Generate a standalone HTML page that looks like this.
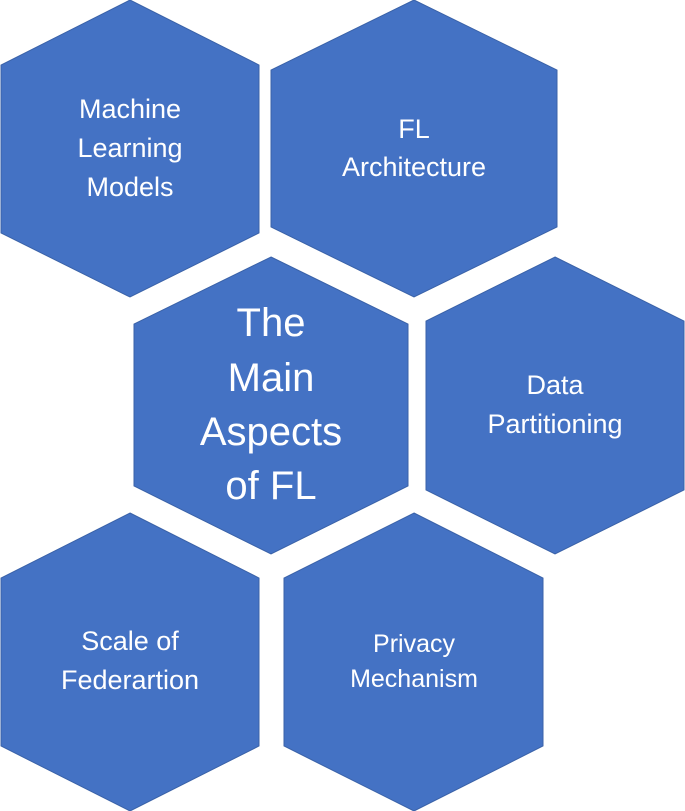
<!DOCTYPE html>
<html><head><meta charset="utf-8"><style>
html,body{margin:0;padding:0;background:#fff}
svg{display:block}
text{font-family:"Liberation Sans",sans-serif;fill:#fff;text-anchor:middle;dominant-baseline:central}
polygon{fill:#4472C4;stroke:#3a62a8;stroke-width:1}
</style></head><body>
<svg width="685" height="811" viewBox="0 0 685 811">
<polygon points="130,0 259,65 259,233 130,297 1,233 1,65"/>
<polygon points="414,0 557,70 557,227 414,297 271,227 271,70"/>
<polygon points="271,257 408,324 408,486 271,554 134,486 134,324"/>
<polygon points="555,257 684,321 684,490 555,554 426,490 426,321"/>
<polygon points="130,513 259,578 259,746 130,811 1,746 1,578"/>
<polygon points="414,513 543,578 543,746 414,811 284,746 284,578"/>
<g font-size="27">
<text x="130" y="109">Machine</text>
<text x="130" y="148">Learning</text>
<text x="130" y="187">Models</text>
<text x="414" y="129">FL</text>
<text x="414" y="167">Architecture</text>
<text x="555" y="385">Data</text>
<text x="555" y="424">Partitioning</text>
<text x="130" y="641">Scale of</text>
<text x="130" y="680">Federartion</text>
</g>
<g font-size="25">
<text x="414" y="644">Privacy</text>
<text x="414" y="679">Mechanism</text>
</g>
<g font-size="40">
<text x="271" y="323">The</text>
<text x="271" y="378">Main</text>
<text x="271" y="432">Aspects</text>
<text x="271" y="486">of FL</text>
</g>
</svg>
</body></html>
